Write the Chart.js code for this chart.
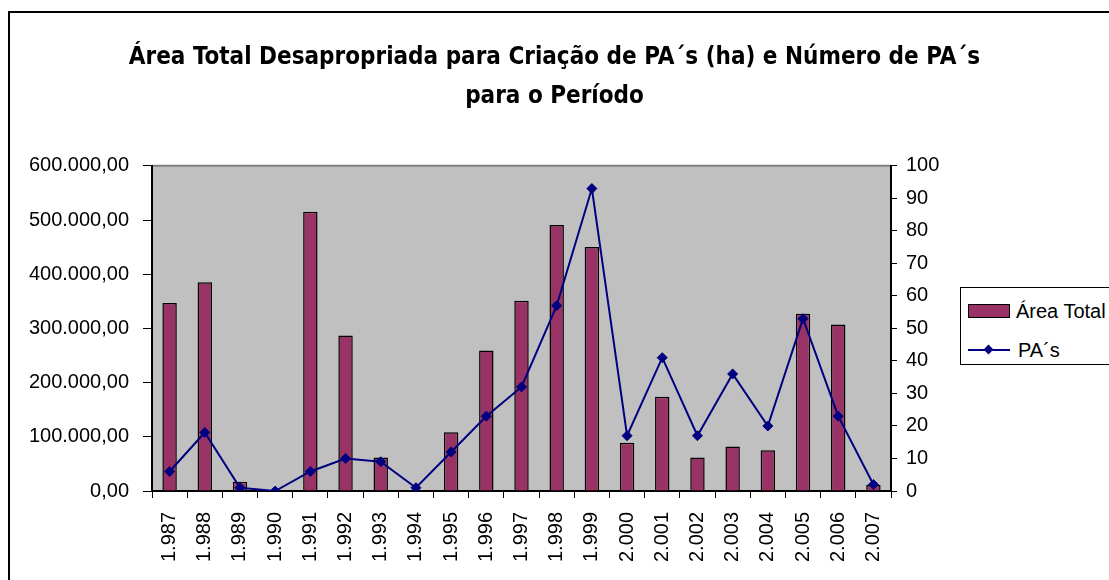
<!DOCTYPE html>
<html>
<head>
<meta charset="utf-8">
<script src="https://cdn.jsdelivr.net/npm/chart.js@4.4.0/dist/chart.umd.min.js"></script>
<style>
body { margin: 0; background: #fff; overflow: hidden; }
#moldura { position: absolute; left: 8px; top: 11px; width: 1300px; height: 800px; border: 2px solid #000; }
#caixa { position: absolute; left: 0; top: 0; width: 1109px; height: 580px; }
#legenda { position: absolute; left: 960px; top: 287px; width: 200px; height: 76px; border: 1px solid #000; background: #fff;
  font-family: "Liberation Sans", Arial, sans-serif; font-size: 20px; color: #000; }
.item { position: absolute; left: 7px; height: 24px; line-height: 24px; }
.barra { position: absolute; left: 0; top: 5px; width: 40px; height: 12px; background: #993366; border: 1px solid #000; }
.linha { position: absolute; left: 0; top: 11px; width: 42px; height: 2px; background: #000080; }
.losango { position: absolute; left: 17px; top: 8px; width: 7px; height: 7px; background: #000080; transform: rotate(45deg); }
.texto { position: absolute; left: 48px; white-space: nowrap; }
</style>
</head>
<body>
<div id="moldura"></div>
<div id="caixa"><canvas id="grafico" width="1109" height="580"></canvas></div>
<div id="legenda">
  <div class="item" style="top:11px"><div class="barra"></div><span class="texto">Área Total</span></div>
  <div class="item" style="top:50px"><div class="linha"></div><div class="losango"></div><span class="texto" style="left:50px">PA´s</span></div>
</div>
<script>
const anos = ["1.987", "1.988", "1.989", "1.990", "1.991", "1.992", "1.993", "1.994", "1.995", "1.996", "1.997",
    "1.998", "1.999", "2.000", "2.001", "2.002", "2.003", "2.004", "2.005", "2.006", "2.007"];
const areaTotal = [347000, 385000, 17000, 0, 515000, 287000, 62000, 1500, 108600, 259000, 351000,
    491000, 450000, 88800, 174000, 61600, 82000, 75000, 327000, 307000, 11000];
const numeroPAs = [6, 18, 1, 0, 6, 10, 9, 1, 12, 23, 32, 57, 93, 17, 41, 17, 36, 20, 53, 23, 2];

const tituloLinhas = ["Área Total Desapropriada para Criação de PA´s (ha) e Número de PA´s", "para o Período"];

function formatoBR(v) {
    let inteiro = Math.round(v).toString().replace(/\B(?=(\d{3})+(?!\d))/g, ".");
    return inteiro + ",00";
}

// fundo cinza da area de plotagem
const fundoCinza = {
    id: "fundoCinza",
    beforeDraw(chart) {
        const a = chart.chartArea;
        const ctx = chart.ctx;
        ctx.save();
        ctx.fillStyle = "#C0C0C0";
        ctx.fillRect(a.left, a.top, a.right - a.left, a.bottom - a.top);
        ctx.strokeStyle = "#808080";
        ctx.lineWidth = 2;
        ctx.beginPath();
        ctx.moveTo(a.left, a.top);
        ctx.lineTo(a.right, a.top);
        ctx.stroke();
        ctx.restore();
    }
};

const fonteEixo = { family: "'Liberation Sans', Arial, sans-serif", size: 20 };

new Chart("grafico", {
    type: "bar",
    data: {
        labels: anos,
        datasets: [{
            type: "line",
            label: "PA´s",
            data: numeroPAs,
            yAxisID: "y2",
            borderColor: "#000080",
            borderWidth: 2,
            backgroundColor: "#000080",
            pointStyle: "rectRot",
            pointRadius: 5,
            pointBorderWidth: 1,
            tension: 0,
            order: 0
        }, {
            label: "Área Total",
            data: areaTotal,
            yAxisID: "y",
            backgroundColor: "#993366",
            borderColor: "#000",
            borderWidth: 1.5,
            barPercentage: 0.41,
            categoryPercentage: 1,
            order: 1
        }]
    },
    options: {
        responsive: false,
        animation: false,
        layout: { padding: 0 },
        plugins: {
            legend: { display: false },
            tooltip: { enabled: false },
            title: {
                display: true,
                text: tituloLinhas,
                color: "#000",
                font: { family: "'Liberation Sans Narrow', 'DejaVu Sans Condensed', Arial, sans-serif", size: 24, weight: "bold", lineHeight: 1.6 },
                padding: { top: 39, bottom: 50 }
            }
        },
        scales: {
            x: {
                grid: { drawOnChartArea: false, color: "#000", tickLength: 7, offset: true },
                border: { color: "#000", width: 2 },
                ticks: { color: "#000", font: fonteEixo, minRotation: 90, maxRotation: 90, padding: 14, autoSkip: false },
                afterFit(s) { s.height = 89; }
            },
            y: {
                position: "left",
                min: 0,
                max: 600000,
                grid: { drawOnChartArea: false, color: "#000", tickLength: 9 },
                border: { color: "#000", width: 2 },
                ticks: { color: "#000", font: fonteEixo, stepSize: 100000, padding: 14, callback: v => formatoBR(v) },
                afterFit(s) { s.width = 152; }
            },
            y2: {
                position: "right",
                min: 0,
                max: 100,
                grid: { drawOnChartArea: false, color: "#000", tickLength: 6 },
                border: { color: "#000", width: 2 },
                ticks: { color: "#000", font: fonteEixo, stepSize: 10, padding: 9 },
                afterFit(s) { s.width = 218; }
            }
        }
    },
    plugins: [fundoCinza]
});
</script>
</body>
</html>
